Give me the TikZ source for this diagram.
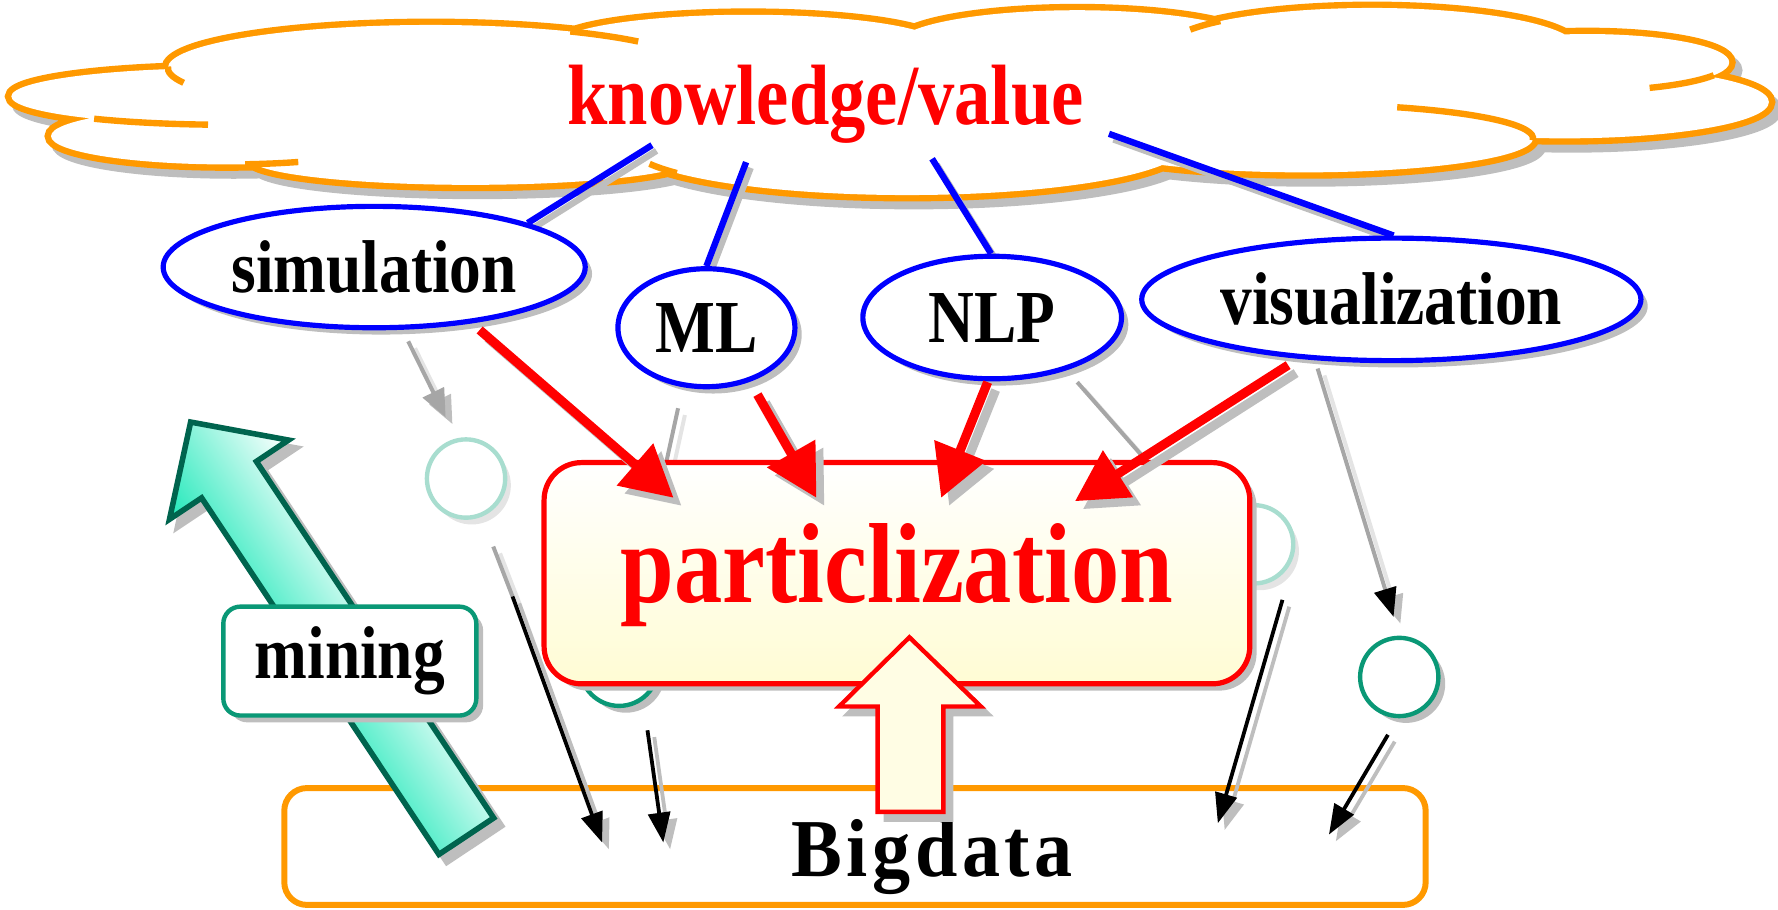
\documentclass[tikz,border=0pt]{standalone}
\usepackage{fontspec}
\setmainfont{Liberation Serif}
\usetikzlibrary{arrows.meta,shapes.geometric,shadows}
\definecolor{corange}{RGB}{255,153,0}
\definecolor{cshadow}{RGB}{190,190,190}
\definecolor{clshadow}{RGB}{228,228,228}
\definecolor{cgreen}{RGB}{10,152,118}
\definecolor{cfaded}{RGB}{168,221,207}
\definecolor{cdkgreen}{RGB}{0,100,78}
\definecolor{caqua}{RGB}{30,232,185}
\definecolor{cyellow}{RGB}{255,252,212}
\definecolor{cyellowb}{RGB}{255,253,228}
\definecolor{cgline}{RGB}{166,166,166}
\newcommand\fKnow{\fontsize{18.2pt}{20pt}\selectfont\bfseries}
\newcommand\fLab{\fontsize{15.9pt}{18pt}\selectfont\bfseries}
\newcommand\fPart{\fontsize{24.2pt}{28pt}\selectfont\bfseries}
\newcommand\fBig{\fontsize{19.1pt}{22pt}\selectfont\bfseries\addfontfeature{LetterSpace=6}}
\newcommand\vs[1]{\scalebox{1}[1.18]{#1}}
\pgfdeclarelayer{bg}
\pgfsetlayers{bg,main}
\tikzset{
  dshadow/.style={drop shadow={shadow xshift=0.06cm, shadow yshift=-0.06cm, fill=cshadow, opacity=1}},
  lshadow/.style={drop shadow={shadow xshift=0.05cm, shadow yshift=-0.06cm, fill=clshadow, opacity=1}},
  bubble/.style={ellipse, draw=blue, line width=1.3pt, fill=white, inner sep=0pt, font=\fLab, dshadow},
  circ/.style={circle, minimum size=0.69cm, inner sep=0pt, line width=1.1pt, fill=white},
  bluelink/.style={blue, line width=1.6pt},
  bluesh/.style={cshadow, line width=1.6pt},
  redar/.style={red, line width=2.3pt, -{Triangle[length=12.8pt,width=13.4pt]}},
  redsh/.style={cshadow, line width=2.3pt, -{Triangle[length=12.8pt,width=13.4pt]}},
  blkar/.style={black, line width=0.95pt, -{Triangle[length=7.5pt,width=5.5pt]}},
  blksh/.style={cshadow, line width=0.95pt, -{Triangle[length=7.5pt,width=5.5pt]}},
  grline/.style={cgline, line width=1pt},
  grsh/.style={clshadow, line width=1pt},
  shiftsh/.style={transform canvas={shift={(0.06cm,-0.06cm)}}},
}
\begin{document}
\begin{tikzpicture}[x=0.01cm,y=-0.01cm]
\useasboundingbox (0,0) rectangle (1568,802);
\def\elist{200/85/190/25, 380/60/232/38, 660/40/170/27, 950/40/160/31, 1210/42/180/35, 1400/55/125/25, 1380/90/180/32, 1150/122/202/30, 800/128/245/44, 415/140/195/23, 200/120/155/25}

% ---------- ellipses (labels) ----------
\node[bubble, minimum width=3.72cm, minimum height=1.07cm] (sim) at (330,235.5) {\vs{simulation}};
\node[bubble, minimum width=1.56cm, minimum height=1.04cm] (ml) at (623,289) {\vs{ML}};
\node[bubble, minimum width=2.28cm, minimum height=1.08cm] (nlp) at (875,280) {\vs{NLP}};
\node[bubble, minimum width=4.40cm, minimum height=1.08cm] (vis) at (1227,264) {\vs{visualization}};

\begin{pgfonlayer}{bg}
% ---------- cloud ----------
\begin{scope}[transform canvas={shift={(0.06cm,-0.07cm)}}]
\filldraw[cshadow, line width=3.2pt] foreach \a/\b/\c/\d in \elist {(\a,\b) ellipse [x radius=\c, y radius=\d]};
\end{scope}
\draw[corange, line width=3.2pt] foreach \a/\b/\c/\d in \elist {(\a,\b) ellipse [x radius=\c, y radius=\d]};
\fill[white] foreach \a/\b/\c/\d in \elist {(\a,\b) ellipse [x radius=\c, y radius=\d]};
\fill[white] (158,66) -- (514,34) -- (806,34) -- (1070,28) -- (1380,38) -- (1500,72) -- (1345,115) -- (1025,140) -- (590,143) -- (225,137) -- (90,100) -- cycle;
\draw[corange, line width=1.6pt]
  ([shift={(380,60)}]160:232 and 38) arc[start angle=160, end angle=182, x radius=232, y radius=38]
  ([shift={(380,60)}]-58:232 and 38) arc[start angle=-58, end angle=-38, x radius=232, y radius=38]
  ([shift={(200,85)}]95:190 and 25) arc[start angle=95, end angle=128, x radius=190, y radius=25]
  ([shift={(200,120)}]66:155 and 25) arc[start angle=66, end angle=84, x radius=155, y radius=25]
  ([shift={(800,128)}]146:245 and 44) arc[start angle=146, end angle=158, x radius=245, y radius=44]
  ([shift={(1150,122)}]-66:202 and 30) arc[start angle=-66, end angle=3, x radius=202, y radius=30]
  ([shift={(1400,55)}]27:125 and 25) arc[start angle=27, end angle=64, x radius=125, y radius=25]
  ([shift={(1210,42)}]-153:180 and 35) arc[start angle=-153, end angle=-138, x radius=180, y radius=35];
\node[font=\fKnow, text=red, anchor=base] (know) at (728,110) {\vs{knowledge/value}};

% ---------- blue links ----------
\coordinate (k1) at (575,128);
\coordinate (k2) at (658,143);
\coordinate (k3) at (822,140);
\coordinate (k4) at (978,118);
\begin{scope}[transform canvas={shift={(0.04cm,-0.05cm)}}]
\draw[bluesh] (k1) -- (sim.16);
\draw[bluesh] (k2) -- (ml.90);
\draw[bluesh] (k3) -- (nlp.91);
\draw[bluesh] (k4) -- (vis.88);
\end{scope}
\draw[bluelink] (k1) -- (sim.16);
\draw[bluelink] (k2) -- (ml.90);
\draw[bluelink] (k3) -- (nlp.91);
\draw[bluelink] (k4) -- (vis.88);
\end{pgfonlayer}

% ---------- coordinates ----------
\coordinate (r1s) at (423,291); \coordinate (r1e) at (594,439);
\coordinate (r2s) at (668,348); \coordinate (r2e) at (720,439);
\coordinate (r3s) at (871,337); \coordinate (r3e) at (830,439);
\coordinate (r4s) at (1136,322); \coordinate (r4e) at (948,442);
\coordinate (g1s) at (360,301); \coordinate (g1e) at (393,368);
\coordinate (g2s) at (598,360); \coordinate (g2e) at (586,415);
\coordinate (g3s) at (950,337); \coordinate (g3e) at (1016,412);
\coordinate (g4s) at (1162,325); \coordinate (g4e) at (1229,544);
\coordinate (a1s) at (435,482); \coordinate (a1m) at (452,526); \coordinate (a1e) at (531,743);
\coordinate (a2s) at (571,644); \coordinate (a2e) at (585,743);
\coordinate (a3s) at (1131,529); \coordinate (a3e) at (1074,726);
\coordinate (a4s) at (1224,648); \coordinate (a4e) at (1172,736);

% ---------- gray thin links ----------
\begin{scope}[shiftsh]
\draw[grsh, -{Triangle[length=7pt,width=5.8pt,color=cshadow]}] (g1s) -- (g1e);
\draw[grsh] (g2s) -- (g2e);
\draw[grsh] (g3s) -- (g3e);
\draw[grsh, -{Triangle[length=7.2pt,width=5.6pt,color=cshadow]}] (g4s) -- (g4e);
\end{scope}
\draw[grline, -{Triangle[length=7pt,width=5.8pt]}] (g1s) -- (g1e);
\draw[grline] (g2s) -- (g2e);
\draw[grline] (g3s) -- (g3e);
\draw[grline, -{Triangle[length=7.2pt,width=5.6pt,color=black]}] (g4s) -- (g4e);

% ---------- particles ----------
\node[circ, draw=cfaded, lshadow] (c1) at (411,422) {};
\node[circ, draw=cfaded, lshadow] (c2) at (1106,480) {};
\node[circ, draw=cgreen, dshadow] (c3) at (546,588) {};
\node[circ, draw=cgreen, dshadow] (c4) at (1234,597) {};

% ---------- particlization ----------
\node[draw=red, line width=1.3pt, rounded corners=0.33cm, minimum width=6.22cm, minimum height=1.95cm, top color=white, bottom color=cyellow, dshadow] (part) at (791,505.5) {};
\node[font=\fPart, text=red, anchor=base] (ptxt) at (791,531) {\vs{particlization}};

% ---------- red arrows ----------
\begin{scope}[transform canvas={shift={(0.07cm,-0.07cm)}}]
\draw[redsh] (r1s) -- (r1e);
\draw[redsh] (r2s) -- (r2e);
\draw[redsh] (r3s) -- (r3e);
\draw[redsh] (r4s) -- (r4e);
\end{scope}
\draw[redar] (r1s) -- (r1e);
\draw[redar] (r2s) -- (r2e);
\draw[redar] (r3s) -- (r3e);
\draw[redar] (r4s) -- (r4e);

% ---------- Bigdata ----------
\node[draw=corange, line width=1.5pt, rounded corners=0.2cm, fill=white, minimum width=10.06cm, minimum height=1.03cm] (big) at (754,746.5) {};
\node[font=\fBig, anchor=base] (bigt) at (822,773) {\scalebox{1}[1.08]{Bigdata}};

% ---------- up block arrow ----------
\begin{scope}[transform canvas={shift={(0.07cm,-0.07cm)}}]
\filldraw[cshadow, line width=1pt] (802,562) -- (865,623) -- (832,623) -- (832,716) -- (774,716) -- (774,623) -- (740,623) -- cycle;
\end{scope}
\filldraw[fill=cyellowb, draw=red, line width=1.1pt] (802,562) -- (865,623) -- (832,623) -- (832,716) -- (774,716) -- (774,623) -- (740,623) -- cycle;

% ---------- mining arrow ----------
\begin{scope}[transform canvas={shift={(4.18cm,-7.44cm)},rotate=33.65}]
\filldraw[cshadow, line width=1.4pt] (-0.29cm,0) -- (0.29cm,0) -- (0.29cm,3.775cm) -- (0.63cm,3.775cm) -- (0,4.385cm) -- (-0.63cm,3.775cm) -- (-0.29cm,3.775cm) -- cycle;
\end{scope}
\begin{scope}[transform canvas={shift={(4.11cm,-7.37cm)},rotate=33.65}]
\shadedraw[left color=caqua, right color=white, draw=cdkgreen, line width=1.4pt] (-0.29cm,0) -- (0.29cm,0) -- (0.29cm,3.775cm) -- (0.63cm,3.775cm) -- (0,4.385cm) -- (-0.63cm,3.775cm) -- (-0.29cm,3.775cm) -- cycle;
\end{scope}
\node[draw=cgreen, line width=1.1pt, rounded corners=0.15cm, fill=white, minimum width=2.23cm, minimum height=0.96cm, font=\fLab, dshadow] (mining) at (308.5,583) {\vs{mining}};

% ---------- black arrows ----------
\begin{scope}[shiftsh]
\draw[grsh] (a1s) -- (a1m);
\draw[blksh] (a1m) -- (a1e);
\draw[blksh] (a2s) -- (a2e);
\draw[blksh] (a3s) -- (a3e);
\draw[blksh] (a4s) -- (a4e);
\end{scope}
\draw[grline] (a1s) -- (a1m);
\draw[blkar] (a1m) -- (a1e);
\draw[blkar] (a2s) -- (a2e);
\draw[blkar] (a3s) -- (a3e);
\draw[blkar] (a4s) -- (a4e);
\end{tikzpicture}
\end{document}
